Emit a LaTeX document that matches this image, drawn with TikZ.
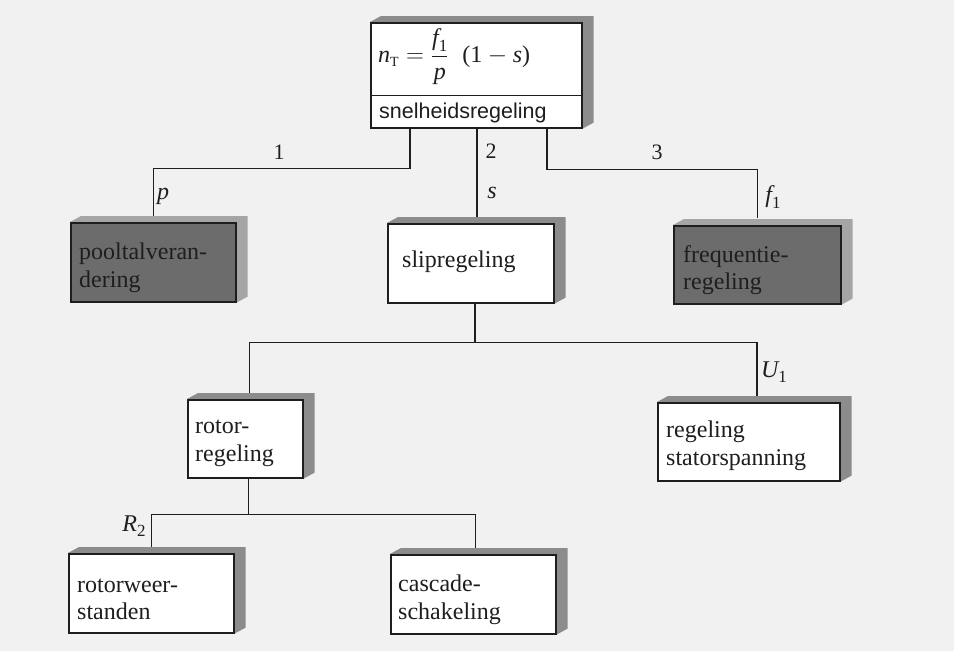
\documentclass[tikz,border=0pt]{standalone}
\usepackage{fontspec}
\setmainfont{Liberation Serif}
\newfontfamily\sansf{Liberation Sans}
\usetikzlibrary{backgrounds,calc}
\definecolor{bgc}{RGB}{241,241,241}
\definecolor{darkf}{RGB}{108,108,108}
\definecolor{shadw}{RGB}{140,140,140}
\definecolor{shadd}{RGB}{165,165,165}
\definecolor{ink}{RGB}{30,30,30}
\newcommand{\mysub}[1]{\raisebox{-0.22em}{\upshape\fontsize{17}{17}\selectfont #1}}
\begin{document}
\begin{tikzpicture}[x=1pt,y=-1pt,
  box/.style={draw=ink, line width=1.6pt, fill=white, rectangle, anchor=north west, inner sep=0pt},
  darkbox/.style={box, fill=darkf},
  btxt/.style={anchor=base west, inner sep=0pt, font=\fontsize{24}{28}\selectfont, text=ink},
  conn/.style={draw=ink, line width=1.5pt},
  lab/.style={font=\fontsize{24}{26}\selectfont, text=ink, inner sep=0pt},
  numlab/.style={font=\fontsize{22}{24}\selectfont, text=ink, inner sep=0pt},
]
\begin{scope}[on background layer]
  \fill[bgc] (0,0) rectangle (954,651);
\end{scope}
\useasboundingbox (0,0) rectangle (954,651);

% boxes
\node[box, minimum width=211pt, minimum height=105pt] (top) at (370,22) {};
\node[darkbox, minimum width=165pt, minimum height=79pt] (pool) at (70,222) {};
\node[box, minimum width=166pt, minimum height=79pt] (slip) at (387,223) {};
\node[darkbox, minimum width=167pt, minimum height=78pt] (freq) at (673,225) {};
\node[box, minimum width=115pt, minimum height=78pt] (rotor) at (187,399) {};
\node[box, minimum width=182pt, minimum height=78pt] (stator) at (657,402) {};
\node[box, minimum width=165pt, minimum height=79pt] (rotw) at (68,553) {};
\node[box, minimum width=165pt, minimum height=79pt] (casc) at (390,554) {};

% box texts
\node[btxt] (poolA) at (79,259) {pooltalveran-};
\node[btxt] (poolB) at (79,287) {dering};
\node[btxt] (slipA) at (402,267) {slipregeling};
\node[btxt] (freqA) at (683,262) {frequentie-};
\node[btxt] (freqB) at (683,289) {regeling};
\node[btxt] (rotorA) at (195,433) {rotor-};
\node[btxt] (rotorB) at (195,461) {regeling};
\node[btxt] (statA) at (666,437) {regeling};
\node[btxt] (statB) at (666,465) {statorspanning};
\node[btxt] (rotwA) at (77,592) {rotorweer-};
\node[btxt] (rotwB) at (77,619) {standen};
\node[btxt] (cascA) at (398,591) {cascade-};
\node[btxt] (cascB) at (398,619) {schakeling};

% shadows (extrusion up-right)
\begin{scope}[on background layer]
\foreach \n/\c in {top/shadw,pool/shadd,slip/shadw,freq/shadd,rotor/shadw,stator/shadw,rotw/shadw,casc/shadw}{
  \fill[\c] (\n.north west) -- ([shift={(11pt,6pt)}]\n.north west)
     -- ([shift={(11pt,6pt)}]\n.north east) -- ([shift={(11pt,6pt)}]\n.south east)
     -- (\n.south east) -- cycle;
}
\end{scope}

% top box contents
\draw[conn, line width=1.6pt] ([yshift=33pt]top.south west) -- ([yshift=33pt]top.south east);
\node[lab, anchor=west] (formula) at (378,57)
  {$\mbox{\itshape n}_{\mbox{\fontsize{14}{14}\selectfont T}} =
   \displaystyle\frac{\mbox{\itshape f\mysub{1}}}{\mbox{\itshape p}}\;\;
   \mbox{(1}-\mbox{\itshape s}\mbox{)}$};
\node[lab, font=\sansf\fontsize{21.5}{24}\selectfont, anchor=base west] (snel) at (379,118) {snelheidsregeling};

% connectors from top
\coordinate (slipT) at ([shift={(6pt,6pt)}]slip.north);
\draw[conn] ([xshift=40pt]top.south west) -- ++(0,40) -| ([yshift=6pt]pool.north);
\draw[conn] (slipT |- top.south) -- (slipT);
\draw[conn] ([xshift=177pt]top.south west) -- ++(0,41) -| ([yshift=7pt]freq.north);

% connectors from slip
\coordinate (slipB) at ([xshift=4pt]slip.south);
\draw[conn] (slipB) -- ++(0,39) -| ([shift={(4pt,6pt)}]rotor.north);
\draw[conn] (slipB) ++(0,39) -| ([shift={(8pt,6pt)}]stator.north);

% connectors from rotor
\coordinate (rotB) at ([xshift=3pt]rotor.south);
\draw[conn] (rotB) -- ++(0,36) -| ([yshift=6pt]rotw.north);
\draw[conn] (rotB) ++(0,36) -| ([shift={(2pt,6pt)}]casc.north);

% labels
\node[numlab] (l1) at (279,152) {1};
\node[numlab] (l2) at (491,151) {2};
\node[numlab] (l3) at (657,152) {3};
\node[lab] (lp) at (163,196) {\itshape p};
\node[lab] (ls) at (492,193) {\itshape s};
\node[lab] (lf) at (773,197) {\itshape f\mysub{1}};
\node[lab] (lu) at (774,372) {\itshape U\mysub{1}};
\node[lab] (lr) at (134,526) {\itshape R\mysub{2}};
\end{tikzpicture}
\end{document}
